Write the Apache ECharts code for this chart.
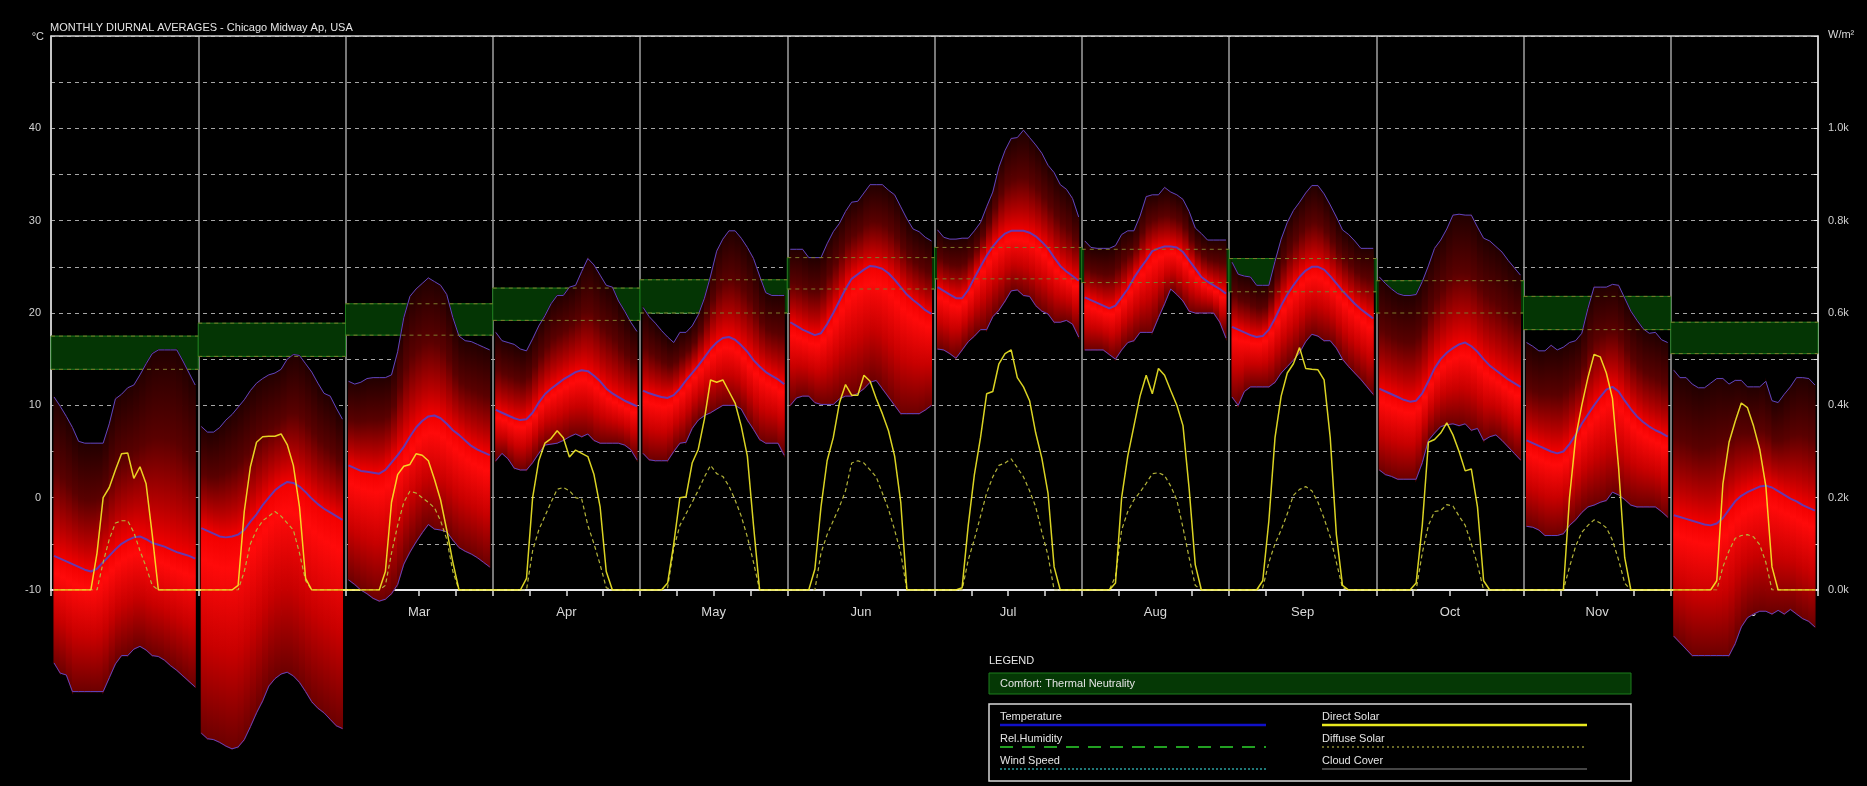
<!DOCTYPE html>
<html>
<head>
<meta charset="utf-8">
<title>Monthly Diurnal Averages - Chicago Midway Ap, USA</title>
<script src="https://cdn.jsdelivr.net/npm/echarts@6/dist/echarts.min.js"></script>
<style>
    html, body { margin: 0; padding: 0; background: #000; }
    #chart { width: 1867px; height: 786px; }
</style>
</head>
<body>
<div id="chart"></div>
<script>
// monthly diurnal averages, one array of 24 hourly values per month
var months = ['Jan', 'Feb', 'Mar', 'Apr', 'May', 'Jun', 'Jul', 'Aug', 'Sep', 'Oct', 'Nov', 'Dec'];

var tMax = [
    [10.9, 9.9, 8.8, 7.6, 6.1, 5.9, 5.9, 5.9, 5.9, 8.0, 10.7, 11.2, 11.9, 12.2, 13.3, 14.5, 15.6, 16.0, 16.0, 16.0, 16.0, 14.8, 13.5, 12.2],
    [7.7, 7.1, 7.1, 7.6, 8.4, 9.0, 9.8, 10.6, 11.6, 12.4, 12.9, 13.3, 13.5, 13.9, 15.0, 15.5, 15.4, 14.5, 13.6, 12.4, 11.3, 11.0, 9.7, 8.5],
    [12.6, 12.3, 12.5, 12.9, 13.0, 13.0, 13.0, 13.3, 15.8, 19.5, 21.8, 22.6, 23.2, 23.8, 23.4, 23.0, 22.0, 19.5, 17.5, 17.0, 16.9, 16.6, 16.3, 16.0],
    [17.9, 17.0, 16.8, 16.6, 16.1, 15.9, 17.2, 18.6, 19.7, 21.0, 21.9, 21.9, 22.8, 23.0, 24.5, 25.9, 25.2, 24.1, 23.0, 22.8, 21.3, 20.2, 19.0, 18.0],
    [20.6, 19.6, 18.9, 18.1, 17.4, 16.8, 17.9, 17.9, 18.6, 19.8, 21.6, 24.0, 26.7, 28.0, 28.9, 28.9, 28.1, 27.1, 25.9, 24.0, 22.2, 21.9, 21.9, 21.9],
    [26.9, 26.9, 26.9, 26.0, 26.0, 26.0, 27.5, 28.8, 29.7, 31.0, 32.0, 32.1, 33.0, 33.9, 33.9, 33.9, 33.3, 32.8, 31.5, 30.2, 29.1, 28.8, 28.2, 27.8],
    [29.0, 28.2, 28.0, 28.0, 28.1, 28.1, 28.9, 29.8, 31.5, 33.1, 35.8, 37.6, 38.9, 39.0, 39.8, 39.0, 38.2, 37.3, 36.0, 35.2, 33.9, 33.4, 32.4, 30.4],
    [27.8, 27.1, 27.0, 27.0, 27.0, 27.3, 28.5, 28.9, 28.9, 30.5, 32.6, 32.8, 32.8, 33.6, 33.1, 32.8, 32.3, 31.0, 29.2, 28.6, 27.9, 27.9, 27.9, 27.9],
    [25.5, 24.2, 24.0, 23.9, 23.0, 23.0, 23.0, 25.6, 28.0, 29.8, 31.1, 32.0, 33.0, 33.8, 33.8, 32.9, 31.7, 30.4, 29.0, 28.5, 27.8, 27.0, 27.0, 27.0],
    [23.9, 23.2, 22.6, 22.1, 21.9, 21.9, 22.0, 23.4, 25.1, 27.0, 27.9, 29.1, 30.6, 30.7, 30.6, 30.6, 29.3, 28.1, 27.8, 27.2, 26.6, 25.7, 24.9, 24.1],
    [16.8, 16.4, 15.9, 15.9, 16.5, 16.0, 16.3, 16.8, 17.0, 17.8, 20.5, 22.8, 22.8, 22.8, 23.1, 23.0, 21.6, 20.2, 19.2, 18.3, 17.8, 17.9, 17.1, 16.8],
    [13.8, 13.0, 13.0, 12.3, 11.9, 11.9, 12.4, 12.9, 12.9, 12.3, 12.7, 12.7, 12.0, 12.0, 12.0, 12.6, 10.5, 10.3, 11.2, 12.0, 13.0, 13.0, 12.9, 12.2]
];

var tMean = [
    [-6.3, -6.6, -6.9, -7.2, -7.5, -7.8, -8.0, -7.7, -7.0, -6.3, -5.6, -5.0, -4.6, -4.3, -4.2, -4.5, -4.9, -5.1, -5.3, -5.6, -5.9, -6.1, -6.3, -6.6],
    [-3.3, -3.6, -3.9, -4.2, -4.3, -4.2, -4.0, -3.5, -2.6, -1.8, -0.8, 0.0, 0.8, 1.3, 1.7, 1.6, 1.2, 0.6, -0.1, -0.7, -1.2, -1.6, -2.0, -2.4],
    [3.5, 3.2, 2.9, 2.8, 2.7, 2.6, 3.0, 3.8, 4.6, 5.5, 6.6, 7.6, 8.3, 8.8, 8.9, 8.6, 8.0, 7.3, 6.8, 6.2, 5.6, 5.2, 4.9, 4.6],
    [9.5, 9.2, 8.9, 8.6, 8.4, 8.5, 9.2, 10.3, 11.2, 11.8, 12.3, 12.8, 13.2, 13.6, 13.8, 13.7, 13.2, 12.6, 11.8, 11.3, 10.9, 10.5, 10.2, 9.9],
    [11.6, 11.3, 11.1, 10.9, 10.8, 11.1, 11.8, 12.7, 13.5, 14.3, 15.2, 16.1, 16.8, 17.3, 17.4, 17.1, 16.5, 15.8, 14.9, 14.2, 13.6, 13.2, 12.8, 12.3],
    [19.0, 18.6, 18.2, 17.9, 17.6, 17.8, 18.8, 20.0, 21.3, 22.6, 23.7, 24.2, 24.7, 25.1, 25.0, 24.8, 24.3, 23.6, 22.8, 22.0, 21.4, 20.9, 20.3, 19.9],
    [22.8, 22.4, 22.0, 21.6, 21.6, 22.5, 23.8, 25.0, 26.2, 27.2, 28.0, 28.6, 28.9, 28.9, 28.9, 28.7, 28.3, 27.7, 27.0, 26.0, 25.1, 24.5, 24.0, 23.5],
    [21.7, 21.4, 21.1, 20.8, 20.5, 20.8, 21.7, 22.6, 23.8, 24.8, 25.7, 26.7, 27.0, 27.2, 27.2, 27.1, 26.6, 25.7, 24.8, 23.9, 23.4, 23.0, 22.6, 22.1],
    [18.5, 18.2, 17.9, 17.6, 17.4, 17.5, 18.2, 19.4, 20.8, 22.0, 23.0, 23.9, 24.6, 25.0, 25.0, 24.7, 24.0, 23.2, 22.4, 21.7, 21.0, 20.4, 19.9, 19.4],
    [11.8, 11.5, 11.2, 10.9, 10.6, 10.4, 10.5, 11.3, 12.6, 14.0, 15.0, 15.7, 16.2, 16.6, 16.8, 16.4, 15.8, 15.0, 14.3, 13.8, 13.3, 12.8, 12.4, 12.0],
    [6.2, 5.9, 5.6, 5.3, 5.0, 4.8, 5.0, 5.8, 6.8, 8.0, 9.0, 10.0, 10.9, 11.7, 12.0, 11.5, 10.5, 9.6, 8.8, 8.2, 7.7, 7.3, 7.0, 6.6],
    [-1.9, -2.1, -2.3, -2.5, -2.7, -2.9, -3.0, -2.8, -2.2, -1.3, -0.4, 0.2, 0.6, 0.9, 1.2, 1.3, 1.1, 0.7, 0.3, -0.1, -0.4, -0.8, -1.1, -1.4]
];

var tMin = [
    [-17.9, -19.0, -19.2, -21.0, -21.0, -21.0, -21.0, -21.0, -21.0, -19.5, -18.0, -17.1, -17.1, -16.4, -16.1, -16.5, -17.1, -17.2, -17.6, -18.2, -18.7, -19.3, -19.9, -20.5],
    [-25.5, -26.1, -26.2, -26.5, -26.9, -27.2, -27.0, -26.2, -24.8, -23.3, -22.0, -20.4, -19.6, -19.1, -18.9, -19.3, -20.0, -21.0, -22.1, -22.8, -23.3, -24.0, -24.7, -25.0],
    [-8.9, -9.4, -10.0, -10.4, -10.9, -11.2, -11.0, -10.4, -9.4, -7.2, -5.9, -4.8, -3.8, -2.9, -3.4, -3.5, -3.7, -4.6, -5.4, -5.8, -6.1, -6.5, -7.0, -7.5],
    [4.0, 4.8, 4.2, 3.2, 3.0, 3.0, 3.8, 4.8, 5.7, 5.8, 5.9, 6.2, 6.6, 6.9, 6.6, 6.9, 6.2, 5.9, 5.9, 5.9, 5.9, 5.7, 5.2, 4.1],
    [4.8, 4.1, 4.0, 4.0, 4.0, 5.0, 5.9, 6.0, 7.5, 8.4, 8.9, 9.2, 9.6, 10.0, 10.0, 10.0, 9.6, 8.4, 7.4, 6.3, 5.9, 5.9, 5.9, 4.6],
    [10.0, 10.8, 11.0, 11.0, 10.3, 10.1, 10.1, 10.1, 10.7, 11.0, 11.0, 11.3, 11.8, 12.5, 12.7, 11.8, 10.9, 10.0, 9.1, 9.1, 9.1, 9.1, 9.5, 10.0],
    [16.1, 16.0, 15.6, 15.1, 16.0, 16.9, 17.5, 18.2, 18.2, 19.6, 20.3, 21.3, 22.4, 22.5, 21.9, 21.8, 20.8, 20.2, 19.9, 19.0, 19.0, 19.2, 18.8, 17.4],
    [16.0, 16.0, 16.0, 16.0, 15.5, 15.0, 16.0, 16.8, 17.0, 17.9, 17.9, 17.9, 19.5, 21.0, 22.6, 22.0, 21.3, 20.2, 20.0, 20.0, 20.0, 20.0, 19.0, 17.3],
    [10.9, 10.0, 11.5, 12.0, 12.0, 12.0, 12.0, 12.5, 13.5, 14.2, 14.9, 15.7, 16.9, 17.7, 17.5, 17.0, 17.0, 16.2, 15.0, 14.2, 13.5, 12.8, 12.0, 11.2],
    [3.0, 2.5, 2.3, 2.0, 2.0, 2.0, 2.0, 3.8, 6.2, 7.0, 7.7, 7.9, 8.0, 7.8, 8.0, 7.3, 7.5, 6.2, 6.6, 6.8, 6.2, 5.5, 4.8, 4.1],
    [-3.1, -3.2, -3.5, -4.1, -4.1, -4.1, -3.9, -3.0, -2.4, -1.6, -1.0, -0.8, -0.5, -0.3, 0.6, 0.3, -0.2, -0.8, -1.0, -1.0, -1.0, -1.0, -1.5, -2.1],
    [-15.0, -15.7, -16.4, -17.1, -17.1, -17.1, -17.1, -17.1, -17.1, -17.1, -15.8, -14.0, -13.0, -12.6, -12.3, -12.3, -12.6, -12.2, -12.6, -12.1, -12.6, -13.1, -13.4, -14.0]
];

// W/m2
var directSolar = [
    [0, 0, 0, 0, 0, 0, 0, 80, 200, 222, 260, 295, 297, 242, 267, 230, 120, 0, 0, 0, 0, 0, 0, 0],
    [0, 0, 0, 0, 0, 0, 10, 170, 267, 320, 332, 333, 333, 338, 315, 270, 180, 25, 0, 0, 0, 0, 0, 0],
    [0, 0, 0, 0, 0, 0, 40, 190, 250, 268, 272, 295, 292, 280, 240, 195, 130, 60, 0, 0, 0, 0, 0, 0],
    [0, 0, 0, 0, 0, 25, 200, 280, 318, 328, 345, 330, 288, 303, 296, 289, 250, 180, 40, 0, 0, 0, 0, 0],
    [0, 0, 0, 0, 15, 100, 200, 202, 275, 305, 370, 455, 450, 455, 430, 405, 355, 290, 140, 0, 0, 0, 0, 0],
    [0, 0, 0, 0, 45, 180, 280, 330, 405, 445, 422, 422, 465, 452, 415, 382, 345, 290, 190, 0, 0, 0, 0, 0],
    [0, 0, 0, 0, 5, 140, 250, 330, 425, 430, 490, 512, 520, 460, 440, 410, 340, 285, 210, 50, 0, 0, 0, 0],
    [0, 0, 0, 0, 0, 15, 200, 290, 355, 420, 465, 425, 480, 465, 432, 400, 356, 220, 55, 0, 0, 0, 0, 0],
    [0, 0, 0, 0, 0, 20, 150, 330, 420, 470, 490, 525, 480, 478, 477, 455, 330, 120, 10, 0, 0, 0, 0, 0],
    [0, 0, 0, 0, 0, 0, 15, 140, 320, 326, 340, 362, 336, 300, 258, 262, 180, 20, 0, 0, 0, 0, 0, 0],
    [0, 0, 0, 0, 0, 0, 0, 200, 330, 400, 460, 510, 505, 470, 415, 265, 70, 0, 0, 0, 0, 0, 0, 0],
    [0, 0, 0, 0, 0, 0, 0, 20, 230, 320, 365, 405, 395, 355, 305, 225, 50, 0, 0, 0, 0, 0, 0, 0]
];

var diffuseSolar = [
    [0, 0, 0, 0, 0, 0, 0, 0, 60, 110, 145, 150, 150, 125, 85, 50, 10, 0, 0, 0, 0, 0, 0, 0],
    [0, 0, 0, 0, 0, 0, 0, 40, 100, 130, 150, 160, 170, 160, 145, 130, 80, 20, 0, 0, 0, 0, 0, 0],
    [0, 0, 0, 0, 0, 0, 10, 80, 140, 190, 214, 210, 200, 190, 178, 150, 110, 40, 0, 0, 0, 0, 0, 0],
    [0, 0, 0, 0, 0, 0, 85, 130, 160, 190, 218, 222, 215, 200, 197, 140, 100, 55, 5, 0, 0, 0, 0, 0],
    [0, 0, 0, 0, 5, 90, 140, 165, 190, 216, 245, 270, 252, 246, 225, 195, 160, 115, 60, 0, 0, 0, 0, 0],
    [0, 0, 0, 0, 0, 80, 120, 150, 180, 215, 275, 280, 275, 260, 245, 210, 175, 130, 80, 0, 0, 0, 0, 0],
    [0, 0, 0, 0, 0, 65, 110, 160, 210, 245, 270, 275, 284, 265, 245, 215, 180, 125, 75, 0, 0, 0, 0, 0],
    [0, 0, 0, 0, 0, 30, 130, 170, 195, 212, 231, 252, 254, 248, 225, 195, 135, 70, 10, 0, 0, 0, 0, 0],
    [0, 0, 0, 0, 0, 5, 60, 100, 130, 165, 205, 218, 224, 215, 190, 155, 115, 60, 5, 0, 0, 0, 0, 0],
    [0, 0, 0, 0, 0, 0, 0, 80, 140, 170, 172, 185, 182, 160, 140, 100, 55, 0, 0, 0, 0, 0, 0, 0],
    [0, 0, 0, 0, 0, 0, 0, 50, 95, 125, 140, 152, 145, 135, 108, 65, 15, 0, 0, 0, 0, 0, 0, 0],
    [0, 0, 0, 0, 0, 0, 0, 0, 50, 85, 112, 118, 120, 115, 98, 60, 0, 0, 0, 0, 0, 0, 0, 0]
];

// comfort band (thermal neutrality), degC
var comfortLow = [13.9, 15.3, 17.6, 19.2, 20.0, 22.6, 23.7, 23.3, 22.3, 20.0, 18.2, 15.6];
var comfortHigh = [17.5, 18.9, 21.0, 22.7, 23.6, 26.0, 27.1, 26.9, 25.9, 23.5, 21.8, 19.0];

var HOURS = 24;
var FONT = '"Liberation Sans", Arial, sans-serif';

function hourX(m, h) {
    return m * HOURS + h + 0.5;
}

// one line per month, broken between panels
function monthLine(values) {
    var out = [];
    values.forEach(function (day, m) {
        day.forEach(function (v, h) {
            out.push([hourX(m, h), v]);
        });
        out.push([m * HOURS + HOURS, '-']);
    });
    return out;
}

// solar runs continuous along the baseline
function yearLine(values) {
    var out = [];
    values.forEach(function (day, m) {
        day.forEach(function (v, h) {
            out.push([hourX(m, h), v]);
        });
    });
    return out;
}

var bandData = [];
months.forEach(function (name, m) {
    for (var h = 0; h < HOURS - 1; h++) {
        bandData.push([
            hourX(m, h), tMin[m][h], tMean[m][h], tMax[m][h],
            hourX(m, h + 1), tMin[m][h + 1], tMean[m][h + 1], tMax[m][h + 1]
        ]);
    }
});

var comfortData = months.map(function (name, m) {
    return [hourX(m, 0), hourX(m, HOURS - 1), comfortLow[m], comfortHigh[m]];
});

function renderBand(params, api) {
    var xa = api.value(0), xb = api.value(4);
    var a1 = api.coord([xa, api.value(3)]);
    var b1 = api.coord([xb, api.value(7)]);
    var b2 = api.coord([xb, api.value(5)]);
    var a2 = api.coord([xa, api.value(1)]);
    var ma = api.coord([xa, api.value(2)]);
    var mb = api.coord([xb, api.value(6)]);
    var top = (a1[1] + b1[1]) / 2;
    var bot = (a2[1] + b2[1]) / 2;
    var mid = (ma[1] + mb[1]) / 2;
    var k = Math.min(0.95, Math.max(0.05, (mid - top) / (bot - top)));
    var grad = new echarts.graphic.LinearGradient(0, top, 0, bot, [
        { offset: 0, color: '#220000' },
        { offset: k * 0.45, color: '#5a0000' },
        { offset: k * 0.8, color: '#b80000' },
        { offset: k, color: '#f20000' },
        { offset: k + (1 - k) * 0.15, color: '#ff0a0a' },
        { offset: k + (1 - k) * 0.55, color: '#c80000' },
        { offset: 1, color: '#6c0000' }
    ], true);
    return {
        type: 'polygon',
        shape: { points: [a1, b1, b2, a2] },
        style: { fill: grad, stroke: grad, lineWidth: 1.2 }
    };
}

function renderComfort(params, api) {
    var p0 = api.coord([api.value(0) - 0.5, api.value(3)]);
    var p1 = api.coord([api.value(1) + 0.5, api.value(2)]);
    return {
        type: 'rect',
        shape: { x: p0[0], y: p0[1], width: p1[0] - p0[0], height: p1[1] - p0[1] },
        style: { fill: '#043504', stroke: '#1d7a1d', lineWidth: 1 }
    };
}

function renderComfortEdge(params, api) {
    var x0 = api.value(0) - 0.5, x1 = api.value(1) + 0.5;
    var lo0 = api.coord([x0, api.value(2)]), lo1 = api.coord([x1, api.value(2)]);
    var hi0 = api.coord([x0, api.value(3)]), hi1 = api.coord([x1, api.value(3)]);
    var style = { stroke: '#7d7a2c', lineWidth: 1, lineDash: [4, 4] };
    return {
        type: 'group',
        children: [
            { type: 'line', shape: { x1: lo0[0], y1: lo0[1], x2: lo1[0], y2: lo1[1] }, style: style },
            { type: 'line', shape: { x1: hi0[0], y1: hi0[1], x2: hi1[0], y2: hi1[1] }, style: style }
        ]
    };
}

function legendText(x, y, text) {
    return {
        type: 'text', x: x, y: y,
        style: { text: text, fill: '#e4e4e4', font: '11px ' + FONT, verticalAlign: 'middle' }
    };
}

function legendLine(x1, x2, y, color, width, dash) {
    return {
        type: 'line',
        shape: { x1: x1, y1: y, x2: x2, y2: y },
        style: { stroke: color, lineWidth: width, lineDash: dash || null }
    };
}

var chart = echarts.init(document.getElementById('chart'));

var option = {
    backgroundColor: '#000',
    animation: false,
    grid: { left: 51, right: 49, top: 36, bottom: 196 },
    xAxis: [{
        type: 'value',
        min: 0,
        max: months.length * HOURS,
        interval: 6,
        position: 'bottom',
        axisLine: { show: true, onZero: false, lineStyle: { color: '#e8e8e8', width: 2 } },
        axisTick: { show: true, length: 6, lineStyle: { color: '#e0e0e0', width: 1.5 } },
        axisLabel: {
            color: '#d8d8d8',
            fontFamily: FONT,
            fontSize: 13,
            margin: 16,
            formatter: function (v) {
                return v % HOURS === HOURS / 2 ? months[(v - HOURS / 2) / HOURS] : '';
            }
        },
        splitLine: { show: false }
    }, {
        type: 'value',
        min: 0,
        max: months.length * HOURS,
        interval: HOURS,
        position: 'top',
        axisLine: { show: true, onZero: false, lineStyle: { color: '#cfcfcf', width: 1.5 } },
        axisTick: { show: false },
        axisLabel: { show: false },
        splitLine: { show: true, lineStyle: { color: '#a0a0a0', width: 1.5 } }
    }],
    yAxis: [{
        type: 'value',
        min: -10,
        max: 50,
        interval: 5,
        position: 'left',
        axisLine: { show: true, onZero: false, lineStyle: { color: '#e0e0e0', width: 1.5 } },
        axisTick: { show: false },
        axisLabel: {
            color: '#cfcfcf',
            fontFamily: FONT,
            fontSize: 11,
            margin: 10,
            formatter: function (v) {
                return (v % 10 === 0 && v < 50) ? String(v) : '';
            }
        },
        splitLine: { show: true, lineStyle: { color: '#a6a6a6', width: 1, type: [4, 4] } }
    }, {
        type: 'value',
        min: 0,
        max: 1200,
        interval: 100,
        position: 'right',
        axisLine: { show: true, onZero: false, lineStyle: { color: '#e0e0e0', width: 1.5 } },
        axisTick: { show: true, inside: true, length: 4, lineStyle: { color: '#e0e0e0' } },
        axisLabel: {
            color: '#cfcfcf',
            fontFamily: FONT,
            fontSize: 11,
            margin: 10,
            formatter: function (v) {
                return (v % 200 === 0 && v < 1200) ? (v / 1000).toFixed(1) + 'k' : '';
            }
        },
        splitLine: { show: false }
    }],
    series: [{
        name: 'Comfort',
        type: 'custom',
        z: 1,
        renderItem: renderComfort,
        encode: { x: [0, 1], y: [2, 3] },
        data: comfortData
    }, {
        name: 'Temperature range',
        type: 'custom',
        z: 2,
        renderItem: renderBand,
        encode: { x: [0, 4], y: [1, 3, 5, 7] },
        data: bandData
    }, {
        name: 'Max',
        type: 'line',
        z: 3,
        clip: false,
        symbol: 'none',
        connectNulls: false,
        lineStyle: { color: '#5c46c0', width: 1 },
        data: monthLine(tMax)
    }, {
        name: 'Min',
        type: 'line',
        z: 3,
        clip: false,
        symbol: 'none',
        connectNulls: false,
        lineStyle: { color: '#5c46c0', width: 1 },
        data: monthLine(tMin)
    }, {
        name: 'Temperature',
        type: 'line',
        z: 3,
        clip: false,
        symbol: 'none',
        connectNulls: false,
        lineStyle: { color: '#6538b0', width: 2 },
        data: monthLine(tMean)
    }, {
        name: 'Comfort edge',
        type: 'custom',
        z: 4,
        renderItem: renderComfortEdge,
        encode: { x: [0, 1], y: [2, 3] },
        data: comfortData
    }, {
        name: 'Diffuse Solar',
        type: 'line',
        z: 5,
        yAxisIndex: 1,
        symbol: 'none',
        lineStyle: { color: '#b4b43a', width: 1.2, type: [4, 3] },
        data: yearLine(diffuseSolar)
    }, {
        name: 'Direct Solar',
        type: 'line',
        z: 6,
        yAxisIndex: 1,
        symbol: 'none',
        lineStyle: { color: 'rgba(248,240,40,0.88)', width: 1.5 },
        data: yearLine(directSolar)
    }],
    graphic: [
        {
            type: 'text', x: 50, y: 28,
            style: { text: 'MONTHLY DIURNAL AVERAGES - Chicago Midway Ap, USA', fill: '#e4e4e4', font: '11px ' + FONT, verticalAlign: 'middle' }
        },
        {
            type: 'text', x: 44, y: 37,
            style: { text: '°C', fill: '#d8d8d8', font: '11px ' + FONT, align: 'right', verticalAlign: 'middle' }
        },
        {
            type: 'text', x: 1828, y: 35,
            style: { text: 'W/m²', fill: '#d8d8d8', font: '11px ' + FONT, verticalAlign: 'middle' }
        },
        legendText(989, 661, 'LEGEND'),
        {
            type: 'rect',
            shape: { x: 989, y: 673, width: 642, height: 21 },
            style: { fill: '#053805', stroke: '#1d7d1d', lineWidth: 1 }
        },
        legendText(1000, 684, 'Comfort: Thermal Neutrality'),
        {
            type: 'rect',
            shape: { x: 989, y: 704, width: 642, height: 77 },
            style: { fill: 'none', stroke: '#d8d8d8', lineWidth: 1.5 }
        },
        legendText(1000, 717, 'Temperature'),
        legendLine(1000, 1266, 725, '#1010c8', 2.5),
        legendText(1000, 739, 'Rel.Humidity'),
        legendLine(1000, 1266, 747, '#22a022', 2, [13, 9]),
        legendText(1000, 761, 'Wind Speed'),
        legendLine(1000, 1266, 769, '#28a0a0', 1.5, [2, 2]),
        legendText(1322, 717, 'Direct Solar'),
        legendLine(1322, 1587, 725, '#e8e820', 2.5),
        legendText(1322, 739, 'Diffuse Solar'),
        legendLine(1322, 1587, 747, '#8c8c34', 1.5, [2, 3]),
        legendText(1322, 761, 'Cloud Cover'),
        legendLine(1322, 1587, 769, '#5c5c5c', 1.5)
    ]
};

chart.setOption(option);
</script>
</body>
</html>
